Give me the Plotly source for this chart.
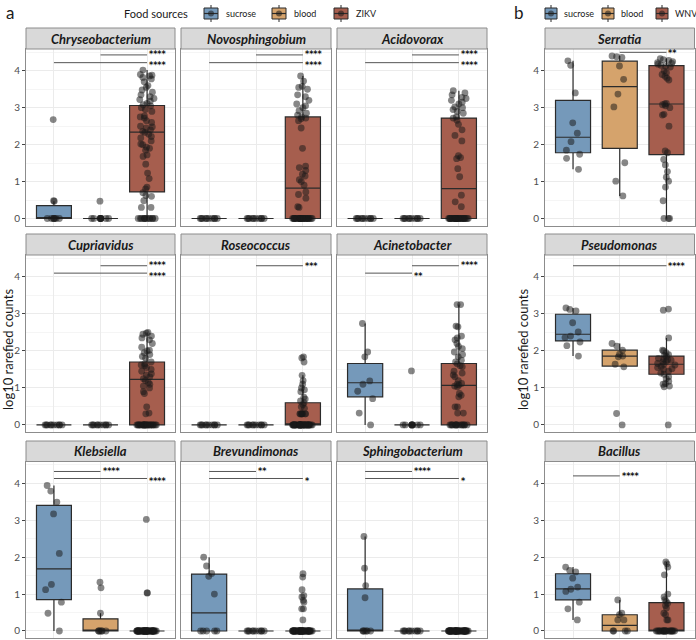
import plotly.graph_objects as go

W, H = 696, 640

group_names_a = ["sucrose", "blood", "ZIKV"]
group_names_b = ["sucrose", "blood", "WNV"]
group_colors = ["#7599BA", "#D5A36C", "#A65E4E"]
y_ticks = [0, 1, 2, 3, 4]

# ---------------- data (log10 rarefied counts) ----------------
# box stats per group: [q1, median, q3, lower whisker, upper whisker]
chryseo_sucrose = [0] * 7 + [0.47, 0.48, 2.68]
chryseo_blood = [0] * 9 + [0.47]
chryseo_zikv = [0] * 12 + [0.30, 0.30, 0.48, 0.60, 0.62, 0.70, 0.80, 0.85, 1.08, 1.23, 1.47, 1.68, 1.72, 1.85,
                           1.90, 1.93, 2.00, 2.02, 2.10, 2.18, 2.22, 2.28, 2.33, 2.36, 2.40, 2.45, 2.48, 2.50,
                           2.60, 2.65, 2.72, 2.75, 2.78, 2.90, 2.95, 3.00, 3.05, 3.08, 3.12, 3.18, 3.22, 3.25,
                           3.30, 3.35, 3.42, 3.48, 3.55, 3.60, 3.70, 3.78, 3.82, 3.86, 3.88, 3.90, 4.02]
chryseo_box = [[0, 0, 0.35, 0, 0.47], [0, 0, 0, 0, 0], [0.72, 2.34, 3.06, 0, 4.02]]

novo_sucrose = [0] * 10
novo_blood = [0] * 10
novo_zikv = [0] * 28 + [0.30, 0.32, 0.55, 0.65, 0.72, 0.90, 1.00, 1.05, 1.15, 1.20, 1.30, 1.38, 1.42, 1.90,
                        2.45, 2.65, 2.70, 2.72, 2.75, 2.80, 2.85, 2.92, 3.00, 3.05, 3.10, 3.20, 3.30, 3.35,
                        3.50, 3.55, 3.58, 3.72, 3.86]
novo_box = [[0, 0, 0, 0, 0], [0, 0, 0, 0, 0], [0, 0.82, 2.75, 0, 3.86]]

acido_sucrose = [0] * 10
acido_blood = [0] * 10
acido_zikv = [0] * 30 + [0.32, 0.45, 0.63, 1.13, 1.35, 1.62, 1.65, 1.70, 2.10, 2.25, 2.40, 2.55, 2.66, 2.72,
                         2.75, 2.85, 2.90, 2.95, 3.00, 3.02, 3.10, 3.15, 3.20, 3.25, 3.28, 3.35, 3.40, 3.46]
acido_box = [[0, 0, 0, 0, 0], [0, 0, 0, 0, 0], [0, 0.81, 2.72, 0, 3.46]]

cupri_sucrose = [0] * 10
cupri_blood = [0] * 10
cupri_zikv = [0] * 25 + [0.30, 0.32, 0.49, 0.85, 0.90, 1.00, 1.05, 1.10, 1.15, 1.20, 1.25, 1.30, 1.35, 1.38,
                         1.45, 1.50, 1.55, 1.60, 1.62, 1.65, 1.70, 1.80, 1.85, 1.90, 1.95, 2.00, 2.02, 2.10,
                         2.20, 2.30, 2.35, 2.40, 2.45, 2.48, 2.50]
cupri_box = [[0, 0, 0, 0, 0], [0, 0, 0, 0, 0], [0, 1.23, 1.70, 0, 2.50]]

roseo_sucrose = [0] * 10
roseo_blood = [0] * 10
roseo_zikv = [0] * 40 + [0.30] * 8 + [0.45, 0.49, 0.55, 0.60, 0.65, 0.70, 0.75, 0.90, 0.95, 1.00, 1.10,
                                      1.20, 1.34, 1.70, 1.81, 1.84]
roseo_box = [[0, 0, 0, 0, 0], [0, 0, 0, 0, 0], [0, 0, 0.60, 0, 1.34]]

acine_sucrose = [0, 0.32, 0.71, 0.91, 1.10, 1.19, 1.84, 1.97, 2.74]
acine_blood = [0] * 9 + [1.46]
acine_zikv = [0] * 15 + [0.32, 0.32, 0.49, 0.49, 0.76, 0.80, 0.85, 1.03, 1.05, 1.08, 1.10, 1.12, 1.20, 1.30,
                         1.35, 1.40, 1.45, 1.57, 1.60, 1.65, 1.70, 1.75, 1.84, 1.90, 1.97, 2.06, 2.12, 2.20,
                         2.30, 2.35, 2.40, 2.65, 2.67, 3.25, 3.25]
acine_box = [[0.76, 1.14, 1.66, 0, 2.74], [0, 0, 0, 0, 0], [0, 1.07, 1.66, 0, 3.25]]

kleb_sucrose = [0, 0.48, 0.78, 1.12, 1.26, 2.10, 3.17, 3.49, 3.79, 3.94]
kleb_blood = [0] * 6 + [0.48, 1.17, 1.32]
kleb_zikv = [0] * 50 + [1.03, 1.03, 3.02]
kleb_box = [[0.85, 1.68, 3.40, 0, 3.94], [0, 0, 0.33, 0, 0.48], [0, 0, 0, 0, 0]]

brev_sucrose = [0] * 5 + [1.00, 1.48, 1.56, 1.76, 2.00]
brev_blood = [0] * 10
brev_zikv = [0] * 50 + [0.30, 0.60, 0.60, 0.78, 0.83, 0.92, 0.96, 1.12, 1.46, 1.55]
brev_box = [[0, 0.49, 1.54, 0, 2.00], [0, 0, 0, 0, 0], [0, 0, 0, 0, 0]]

sphingo_sucrose = [0] * 6 + [0.90, 1.23, 1.70, 2.56]
sphingo_blood = [0] * 10
sphingo_zikv = [0] * 50
sphingo_box = [[0, 0, 1.14, 0, 2.56], [0, 0, 0, 0, 0], [0, 0, 0, 0, 0]]

serr_sucrose = [1.33, 1.63, 1.74, 1.85, 2.08, 2.31, 2.59, 3.40, 4.15, 4.27]
serr_blood = [0.61, 1.01, 1.51, 3.02, 3.37, 3.77, 4.13, 4.36, 4.38, 4.40]
serr_wnv = [0, 0, 0, 0.48, 0.85, 1.01, 1.12, 1.27, 1.45, 1.60, 1.78, 1.83, 2.50, 2.80, 2.82, 3.00, 3.05,
            3.08, 3.10, 3.12, 3.75, 3.80, 3.85, 3.90, 3.95, 4.00, 4.10, 4.12, 4.15, 4.18, 4.20, 4.22, 4.25,
            4.28, 4.30, 4.33]
serr_box = [[1.78, 2.20, 3.20, 1.33, 4.27], [1.90, 3.57, 4.26, 0.61, 4.40], [1.73, 3.10, 4.14, 0, 4.33]]

pseudo_sucrose = [1.86, 2.14, 2.24, 2.36, 2.40, 2.51, 2.76, 3.08, 3.12, 3.16]
pseudo_blood = [0, 0.31, 1.57, 1.64, 1.84, 1.86, 1.91, 2.02, 2.13, 2.20]
pseudo_wnv = [0, 1.03, 1.05, 1.10, 1.12, 1.18, 1.25, 1.30, 1.37, 1.40, 1.45, 1.50, 1.52, 1.55, 1.58, 1.62,
              1.64, 1.66, 1.70, 1.72, 1.75, 1.76, 1.78, 1.80, 1.85, 1.88, 1.90, 1.95, 2.00, 2.02, 2.35,
              3.10, 3.13]
pseudo_box = [[2.27, 2.45, 2.99, 1.86, 3.16], [1.59, 1.86, 2.02, 1.57, 2.20], [1.37, 1.64, 1.86, 1.03, 2.35]]

bac_sucrose = [0.30, 0.60, 0.78, 1.07, 1.13, 1.19, 1.43, 1.60, 1.64, 1.73]
bac_blood = [0, 0, 0, 0, 0.30, 0.30, 0.44, 0.48, 0.84]
bac_wnv = [0] * 20 + [0.30, 0.30, 0.44, 0.48, 0.62, 0.69, 0.75, 0.80, 0.85, 0.92, 1.00, 1.52, 1.73,
                      1.82, 1.87]
bac_box = [[0.84, 1.14, 1.55, 0.30, 1.73], [0, 0.15, 0.44, 0, 0.84], [0, 0, 0.77, 0, 1.87]]

# significance brackets: (from group, to group, y, label)
chryseo_sig = [(2, 3, 4.43, "****"), (1, 3, 4.22, "****")]
novo_sig = [(2, 3, 4.43, "****"), (1, 3, 4.22, "****")]
acido_sig = [(2, 3, 4.43, "****"), (1, 3, 4.22, "****")]
cupri_sig = [(2, 3, 4.30, "****"), (1, 3, 4.10, "****")]
roseo_sig = [(2, 3, 4.30, "***")]
acine_sig = [(2, 3, 4.30, "****"), (1, 2, 4.10, "**")]
kleb_sig = [(1, 2, 4.32, "****"), (1, 3, 4.13, "****")]
brev_sig = [(1, 2, 4.32, "**"), (1, 3, 4.13, "*")]
sphingo_sig = [(1, 2, 4.32, "****"), (1, 3, 4.13, "*")]
serr_sig = [(2, 3, 4.50, "**")]
pseudo_sig = [(1, 3, 4.30, "****")]
bac_sig = [(1, 2, 4.20, "****")]

# ---------------- layout geometry (pixels) ----------------
cols_px = [(26, 175), (181, 331), (337, 487), (545, 694.5)]
rows_px = [(49, 225.5), (255, 432), (461.5, 638)]
strips_px = [(28, 49), (234, 255), (441, 461.5)]

panels = [
    ("Chryseobacterium", 0, 0, [chryseo_sucrose, chryseo_blood, chryseo_zikv], chryseo_box, chryseo_sig),
    ("Novosphingobium", 1, 0, [novo_sucrose, novo_blood, novo_zikv], novo_box, novo_sig),
    ("Acidovorax", 2, 0, [acido_sucrose, acido_blood, acido_zikv], acido_box, acido_sig),
    ("Cupriavidus", 0, 1, [cupri_sucrose, cupri_blood, cupri_zikv], cupri_box, cupri_sig),
    ("Roseococcus", 1, 1, [roseo_sucrose, roseo_blood, roseo_zikv], roseo_box, roseo_sig),
    ("Acinetobacter", 2, 1, [acine_sucrose, acine_blood, acine_zikv], acine_box, acine_sig),
    ("Klebsiella", 0, 2, [kleb_sucrose, kleb_blood, kleb_zikv], kleb_box, kleb_sig),
    ("Brevundimonas", 1, 2, [brev_sucrose, brev_blood, brev_zikv], brev_box, brev_sig),
    ("Sphingobacterium", 2, 2, [sphingo_sucrose, sphingo_blood, sphingo_zikv], sphingo_box, sphingo_sig),
    ("Serratia", 3, 0, [serr_sucrose, serr_blood, serr_wnv], serr_box, serr_sig),
    ("Pseudomonas", 3, 1, [pseudo_sucrose, pseudo_blood, pseudo_wnv], pseudo_box, pseudo_sig),
    ("Bacillus", 3, 2, [bac_sucrose, bac_blood, bac_wnv], bac_box, bac_sig),
]

FONT = "Lato"
BORDER = "#8C8C8C"


def px_x(v):
    return v / W


def px_y(v):
    return 1 - v / H


fig = go.Figure()
shapes = []
annotations = []
layout_axes = {}

for i, (title, c, r, groups, boxes, sigs) in enumerate(panels):
    k = i + 1
    xa = "x" if k == 1 else f"x{k}"
    ya = "y" if k == 1 else f"y{k}"
    xname = "xaxis" if k == 1 else f"xaxis{k}"
    yname = "yaxis" if k == 1 else f"yaxis{k}"
    x0, x1 = cols_px[c]
    y0, y1 = rows_px[r]
    s0, s1 = strips_px[r]
    show_lab = c in (0, 3)
    layout_axes[xname] = dict(
        domain=[px_x(x0), px_x(x1)], anchor=ya, range=[0.4, 3.6],
        tickvals=[1, 2, 3], showticklabels=False, ticks="",
        showgrid=True, gridcolor="#EBEBEB", gridwidth=1, zeroline=False,
        showline=True, mirror=True, linecolor=BORDER, linewidth=1,
    )
    layout_axes[yname] = dict(
        domain=[px_y(y1), px_y(y0)], anchor=xa, range=[-0.19, 4.59],
        tickvals=y_ticks, showticklabels=show_lab,
        ticks="outside" if show_lab else "", ticklen=3, tickcolor="#444", tickwidth=1,
        tickfont=dict(family=FONT, size=10, color="#4D4D4D"),
        showgrid=True, gridcolor="#EBEBEB", gridwidth=1, zeroline=False,
        minor=dict(dtick=0.5, tick0=0, showgrid=True, gridcolor="#F5F5F5", gridwidth=0.6),
        showline=True, mirror=True, linecolor=BORDER, linewidth=1,
    )
    # boxes
    for g in range(3):
        q1, med, q3, lo, hi = boxes[g]
        fig.add_trace(go.Box(
            x=[g + 1], q1=[q1], median=[med], q3=[q3], lowerfence=[lo], upperfence=[hi],
            width=0.75, whiskerwidth=0, fillcolor=group_colors[g],
            line=dict(color="#2B2B2B", width=1.2), boxpoints=False,
            xaxis=xa, yaxis=ya, hoverinfo="skip", showlegend=False,
        ))
    # jittered points
    for g in range(3):
        vals = groups[g]
        fig.add_trace(go.Box(
            x=[g + 1] * len(vals), y=vals, boxpoints="all", jitter=0.6, pointpos=0,
            width=0.75, fillcolor="rgba(0,0,0,0)", line=dict(width=0, color="rgba(0,0,0,0)"),
            marker=dict(size=6.8, color="rgba(25,25,25,0.52)", line=dict(width=0)),
            xaxis=xa, yaxis=ya, hoverinfo="skip", showlegend=False,
        ))
    # strip
    shapes.append(dict(type="rect", xref="paper", yref="paper",
                       x0=px_x(x0), x1=px_x(x1), y0=px_y(s1), y1=px_y(s0),
                       fillcolor="#D9D9D9", line=dict(color=BORDER, width=1), layer="above"))
    annotations.append(dict(xref="paper", yref="paper", x=px_x((x0 + x1) / 2), y=px_y((s0 + s1) / 2),
                            text=f"<b><i>{title}</i></b>", showarrow=False,
                            font=dict(family=FONT, size=13, color="#1A1A1A"),
                            xanchor="center", yanchor="middle"))
    # significance
    n_sig = len(sigs)
    for j, (ga, gb, yv, lab) in enumerate(sigs):
        shapes.append(dict(type="line", xref=xa, yref=ya, x0=ga, x1=gb, y0=yv, y1=yv,
                           line=dict(color="#555555", width=1)))
        ys = 0 if n_sig == 1 else (1 if j == 0 else -2)
        annotations.append(dict(xref=xa, yref=ya, x=gb, y=yv, text=f"<b>{lab}</b>", showarrow=False,
                                xanchor="left", yanchor="middle", xshift=0, yshift=ys - 1,
                                font=dict(family="DejaVu Sans", size=8, color="#111111")))

# y-axis titles
for xp in (8, 523):
    annotations.append(dict(xref="paper", yref="paper", x=px_x(xp), y=px_y(350),
                            text="log10 rarefied counts", textangle=-90, showarrow=False,
                            font=dict(family=FONT, size=13, color="#1A1A1A"),
                            xanchor="center", yanchor="middle"))

# panel labels
annotations.append(dict(xref="paper", yref="paper", x=px_x(10), y=px_y(13), text="a", showarrow=False,
                        font=dict(family=FONT, size=17, color="#1A1A1A"), xanchor="center", yanchor="middle"))
annotations.append(dict(xref="paper", yref="paper", x=px_x(519), y=px_y(13), text="b", showarrow=False,
                        font=dict(family=FONT, size=17, color="#1A1A1A"), xanchor="center", yanchor="middle"))

# legends (drawn manually as ggplot-style keys)
annotations.append(dict(xref="paper", yref="paper", x=px_x(190), y=px_y(13.5), text="Food sources",
                        showarrow=False, font=dict(family=FONT, size=11, color="#1A1A1A"),
                        xanchor="right", yanchor="middle"))


def legend_key(kx, kw, color, label, gap):
    cx = kx + kw / 2
    shapes.append(dict(type="line", xref="paper", yref="paper", x0=px_x(cx), x1=px_x(cx),
                       y0=px_y(5), y1=px_y(22), line=dict(color="#2B2B2B", width=1)))
    shapes.append(dict(type="rect", xref="paper", yref="paper", x0=px_x(kx), x1=px_x(kx + kw),
                       y0=px_y(19), y1=px_y(8), fillcolor=color, line=dict(color="#2B2B2B", width=1)))
    shapes.append(dict(type="line", xref="paper", yref="paper", x0=px_x(kx), x1=px_x(kx + kw),
                       y0=px_y(13.5), y1=px_y(13.5), line=dict(color="#2B2B2B", width=1.2)))
    shapes.append(dict(type="circle", xref="paper", yref="paper", x0=px_x(cx - 3), x1=px_x(cx + 3),
                       y0=px_y(16.5), y1=px_y(10.5), fillcolor="rgba(25,25,25,0.55)", line=dict(width=0)))
    annotations.append(dict(xref="paper", yref="paper", x=px_x(kx + kw + gap), y=px_y(13.5), text=label,
                            showarrow=False, font=dict(family=FONT, size=9, color="#1A1A1A"),
                            xanchor="left", yanchor="middle"))


for kx, col, lab in zip([204, 272, 334], group_colors, group_names_a):
    legend_key(kx, 14, col, lab, 6)
for kx, col, lab in zip([545, 602, 656], group_colors, group_names_b):
    legend_key(kx, 12, col, lab, 5)

fig.update_layout(
    width=W, height=H, margin=dict(l=0, r=0, t=0, b=0),
    plot_bgcolor="white", paper_bgcolor="white",
    showlegend=False, boxmode="overlay",
    shapes=shapes, annotations=annotations,
    font=dict(family=FONT),
    **layout_axes,
)

fig.write_html("out.html", config={"displayModeBar": False},
               post_script="document.body.style.margin='0px';document.body.style.padding='0px';")
